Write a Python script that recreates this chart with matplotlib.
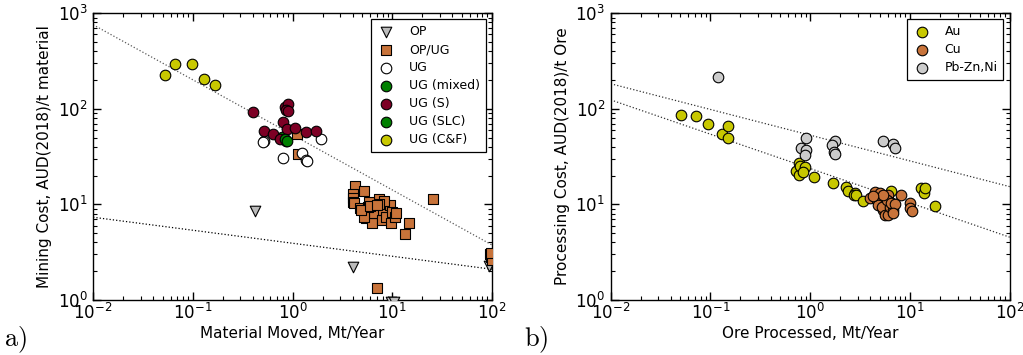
#!/usr/bin/env python3
"""Mining and processing unit costs against annual throughput (log-log)."""

import matplotlib

matplotlib.use("Agg")
import matplotlib.pyplot as plt
import numpy as np

# ---- panel a: mining cost vs material moved ----
op_x = [0.416, 4.02, 9.6, 10.4, 92.6]
op_y = [8.6, 2.23, 0.96, 0.96, 2.27]

opug_x = [1.10, 1.13, 25.5, 7.0, 13.5, 14.6,
          4.18, 5.22, 4.0, 4.0, 4.05, 4.1, 4.76, 5.47, 6.23, 6.5, 6.89, 7.33,
          8.03, 7.9, 8.67, 9.37, 9.88, 9.7, 10.7, 10.9, 5.69, 5.9, 8.3, 7.4,
          5.2, 4.9, 6.0, 7.0,
          95, 98, 100, 97]
opug_y = [54.2, 33.5, 11.3, 1.34, 4.87, 6.45,
          15.7, 13.9, 12.9, 11.6, 10.7, 10.3, 9.1, 7.16, 6.45, 8.07, 10.3, 11.4,
          8.75, 6.88, 7.45, 9.87, 8.27, 6.35, 7.45, 8.1, 9.48, 10.7, 10.8, 10.0,
          7.3, 8.8, 9.5, 9.8,
          3.0, 2.8, 2.65, 3.1]

ug_x = [0.52, 0.50, 0.805, 1.23, 1.37, 1.40, 1.91]
ug_y = [46.5, 45.0, 30.6, 34.6, 29.0, 28.3, 48.8]

ug_mixed_x = [0.79, 0.86]
ug_mixed_y = [51.2, 46.0]

ug_s_x = [0.404, 0.52, 0.635, 0.741, 0.805, 0.871, 0.846, 0.897, 0.85, 0.90,
          1.06, 1.36, 1.71]
ug_s_y = [91.4, 58.7, 53.8, 48.4, 72.3, 61.6, 105, 111, 97.4, 95,
          63.6, 56.9, 58.2]

ug_slc_x = [0.83, 0.885]
ug_slc_y = [48.0, 46.5]

ug_cf_x = [0.053, 0.066, 0.097, 0.129, 0.168]
ug_cf_y = [223, 295, 293, 207, 178]

# power-law trend lines: y = a * x**b
mine_fits = [(53.3, -0.576, "0.35"), (3.92, -0.136, "k")]

# ---- panel b: processing cost vs ore processed ----
au_x = [0.051, 0.072, 0.094, 0.129, 0.149, 0.15,
        0.769, 0.718, 0.77, 0.79, 0.885, 0.85, 1.10, 1.70, 2.28, 2.4, 2.80,
        2.75, 2.9, 3.40, 6.43, 12.8, 13.7, 14.3, 17.9]
au_y = [87, 84.3, 69.5, 54.2, 66.8, 50,
        26.9, 22.4, 20.3, 24.9, 24.7, 22, 19.1, 16.6, 15.1, 13.9, 13.3,
        12.6, 12.6, 10.9, 13.7, 15, 13.1, 14.8, 9.7]

cu_x = [3.96, 4.44, 4.99, 5.19, 6.04, 6.28, 5.60, 5.38, 5.82, 6.53,
        8.22, 9.96, 9.96, 10.6, 4.62, 4.80, 5.19, 5.6, 6.0, 6.28,
        6.78, 5.82, 5.38, 4.28, 6.53, 7.05, 6.78]
cu_y = [11.6, 13.6, 13.1, 11.6, 12.6, 10.7, 10.3, 8.75, 8.07, 9.12,
        12.6, 10.3, 9.12, 8.61, 11.1, 9.86, 9.49, 7.76, 7.76, 9.49,
        8.75, 11.1, 12.6, 12.1, 10.3, 10.1, 8.2]

pbzn_x = [0.119, 0.906, 0.807, 0.906, 0.89, 1.79, 1.66, 1.74, 1.78, 5.38, 6.78, 7.16]
pbzn_y = [216, 50, 39.3, 37.2, 33.2, 46.1, 41.9, 35.4, 33.5, 46.1, 42.9, 38.4]

proc_fits = [(52.9, -0.269, "0.2"), (23.7, -0.359, "0.2")]

YELLOW = "#c8c800"
ORANGE = "#c8733a"
DARKRED = "#7d0025"
GREEN = "#008000"
GREY = "#cccccc"


def style_axes(ax):
    ax.set_xscale("log")
    ax.set_yscale("log")
    ax.set_xlim(1e-2, 1e2)
    ax.set_ylim(1e0, 1e3)
    ax.tick_params(which="both", direction="in", top=True, right=True,
                   labelsize=12)
    ax.tick_params(axis="x", pad=2)
    ax.tick_params(axis="y", pad=4)
    ax.tick_params(which="major", length=6, width=1)
    ax.tick_params(which="minor", length=3, width=0.8)
    for spine in ax.spines.values():
        spine.set_linewidth(1.0)


def draw_fits(ax, fits):
    xs = np.logspace(-2, 2, 50)
    for a, b, colour in fits:
        ax.plot(xs, a * xs ** b, linestyle=":", color=colour, linewidth=0.9, zorder=1)


def add_legend(ax):
    leg = ax.legend(loc="upper right", scatterpoints=1, fontsize=9, fancybox=False,
                    edgecolor="k", framealpha=1, handletextpad=1.1, labelspacing=0.4,
                    borderpad=0.45, handlelength=1.5)
    leg.get_frame().set_linewidth(0.9)


plt.rcParams["mathtext.fontset"] = "cm"

fig = plt.figure(figsize=(10.23, 3.55), dpi=100)
ax1 = fig.add_axes([0.091, 0.155, 0.390, 0.808])
ax2 = fig.add_axes([0.597, 0.155, 0.390, 0.808])

kw = dict(s=58, edgecolors="k", linewidths=0.8, zorder=3)

style_axes(ax1)
draw_fits(ax1, mine_fits)
ax1.scatter(op_x, op_y, marker="v", c="#bbbbbb", label="OP", **kw)
ax1.scatter(opug_x, opug_y, marker="s", c=ORANGE, label="OP/UG", **kw)
ax1.scatter(ug_x, ug_y, marker="o", c="white", label="UG", **kw)
ax1.scatter(ug_mixed_x, ug_mixed_y, marker="o", c=GREEN, label="UG (mixed)", **kw)
ax1.scatter(ug_s_x, ug_s_y, marker="o", c=DARKRED, label="UG (S)", **kw)
ax1.scatter(ug_slc_x, ug_slc_y, marker="o", c=GREEN, label="UG (SLC)", **kw)
ax1.scatter(ug_cf_x, ug_cf_y, marker="o", c=YELLOW, label="UG (C&F)", **kw)
ax1.set_xlabel("Material Moved, Mt/Year", fontsize=11, labelpad=2)
ax1.set_ylabel("Mining Cost, AUD(2018)/t material", fontsize=11)
add_legend(ax1)

style_axes(ax2)
draw_fits(ax2, proc_fits)
ax2.scatter(au_x, au_y, marker="o", c=YELLOW, label="Au", **kw)
ax2.scatter(cu_x, cu_y, marker="o", c=ORANGE, label="Cu", **kw)
ax2.scatter(pbzn_x, pbzn_y, marker="o", c=GREY, label="Pb-Zn,Ni", **kw)
ax2.set_xlabel("Ore Processed, Mt/Year", fontsize=11, labelpad=2)
ax2.set_ylabel("Processing Cost, AUD(2018)/t Ore", fontsize=11)
add_legend(ax2)

fig.text(0.004, 0.025, r"$\mathrm{a)}$", fontsize=19)
fig.text(0.512, 0.025, r"$\mathrm{b)}$", fontsize=19)

fig.savefig("out.png", dpi=100)
plt.close(fig)
